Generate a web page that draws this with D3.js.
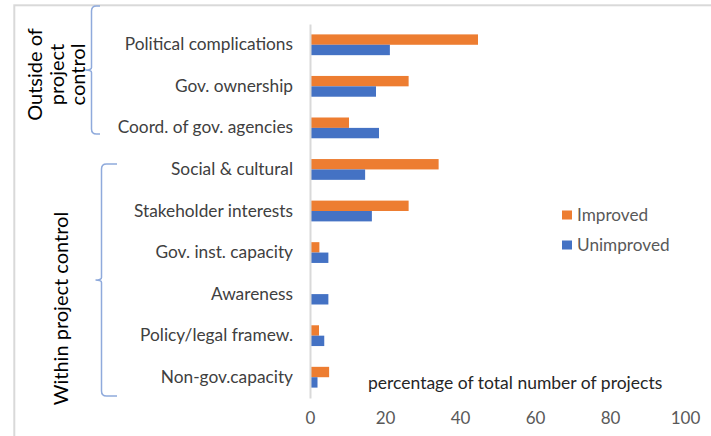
<!DOCTYPE html>
<html>
<head>
<meta charset="utf-8">
<script src="https://cdn.jsdelivr.net/npm/d3@7"></script>
<style>
  html, body { margin: 0; padding: 0; background: #fff; }
  svg { display: block; font-family: Lato, "Open Sans", sans-serif; }
</style>
</head>
<body>
<svg id="chart" width="711" height="436"></svg>
<script>
// Factors affecting project outcomes, share of projects (%)
const categories = [
  "Political complications",
  "Gov. ownership",
  "Coord. of gov. agencies",
  "Social & cultural",
  "Stakeholder interests",
  "Gov. inst. capacity",
  "Awareness",
  "Policy/legal framew.",
  "Non-gov.capacity"
];
const seriesNames = ["Improved", "Unimproved"];
const improved   = [44.8, 26.3, 10.4, 34.3, 26.3, 2.5, 0, 2.4, 5.1];
const unimproved = [21.3, 17.6, 18.4, 14.7, 16.5, 4.9, 4.9, 3.8, 2.0];
const xTicks = [0, 20, 40, 60, 80, 100];
const groups = [
  { lines: ["Outside of", "project", "control"], from: "Political complications", to: "Coord. of gov. agencies" },
  { lines: ["Within project control"], from: "Social & cultural", to: "Non-gov.capacity" }
];
const axisTitle = "percentage of total number of projects";
const colors = { Improved: "#ed7d31", Unimproved: "#4472c4" };

const svg = d3.select("#chart");

// frame
svg.append("rect")
  .attr("x", 14.3).attr("y", 5.3)
  .attr("width", 760).attr("height", 500)
  .attr("fill", "none").attr("stroke", "#d9d9d9").attr("stroke-width", 2);

const x = d3.scaleLinear().domain([0, 100]).range([310, 685]);
const y = d3.scaleBand().domain(categories).range([24, 398])
  .paddingInner(0.5).paddingOuter(0.25);
const ySub = d3.scaleBand().domain(seriesNames).range([0, y.bandwidth()]);

const rows = categories.map((c, i) => ({ cat: c, Improved: improved[i], Unimproved: unimproved[i] }));

// bars
const g = svg.append("g");
const rowG = g.selectAll("g.row").data(rows).join("g")
  .attr("class", "row")
  .attr("transform", d => `translate(0,${y(d.cat)})`);
rowG.selectAll("rect").data(d => seriesNames.map(s => ({ s, v: d[s] }))).join("rect")
  .attr("x", x(0))
  .attr("y", d => ySub(d.s))
  .attr("width", d => x(d.v) - x(0))
  .attr("height", ySub.bandwidth())
  .attr("fill", d => colors[d.s]);

// category axis
const yAxis = svg.append("g")
  .attr("transform", `translate(${x(0)},0)`)
  .call(d3.axisLeft(y).tickSize(0).tickSizeOuter(0).tickPadding(17));
yAxis.select(".domain").attr("stroke", "#d9d9d9").attr("stroke-width", 2);
yAxis.selectAll("text")
  .attr("font-family", "Lato, sans-serif")
  .attr("font-size", 17.3)
  .attr("fill", "#404040");

// value axis
const xAxis = svg.append("g")
  .attr("transform", `translate(0,${398})`)
  .call(d3.axisBottom(x).tickValues(xTicks).tickSize(0).tickPadding(14));
xAxis.select(".domain").remove();
xAxis.selectAll("text")
  .attr("font-family", "Lato, sans-serif")
  .attr("font-size", 17)
  .attr("fill", "#595959");

// axis title
svg.append("text")
  .attr("x", 368).attr("y", 389)
  .attr("font-size", 17.5)
  .attr("fill", "#262626")
  .text(axisTitle);

// legend
const legend = svg.append("g");
seriesNames.forEach((s, i) => {
  const ly = 215 + i * 30;
  legend.append("rect")
    .attr("x", 562).attr("y", ly - 4.5)
    .attr("width", 10).attr("height", 9)
    .attr("fill", colors[s]);
  legend.append("text")
    .attr("x", 577).attr("y", ly)
    .attr("dy", "0.35em")
    .attr("font-size", 17.2)
    .attr("fill", "#595959")
    .text(s);
});

// group braces and labels
const braceX = [91.5, 101.5];
const hookX = [100, 117];
const braceSpan = [[6, 134], [164, 396]];
const labelBase = [[42, 63.5, 85], [68]];
const labelMid = [74.5, 308.5];

groups.forEach((grp, i) => {
  const [y0, y1] = braceSpan[i];
  const bx = braceX[i], hx = hookX[i];
  const ym = (y0 + y1) / 2;
  const r = 5;
  const path = d3.path();
  path.moveTo(hx, y0);
  path.lineTo(bx + r, y0);
  path.quadraticCurveTo(bx, y0, bx, y0 + r);
  path.lineTo(bx, ym - 2.5);
  path.quadraticCurveTo(bx, ym, bx - 6, ym);
  path.quadraticCurveTo(bx, ym, bx, ym + 2.5);
  path.lineTo(bx, y1 - r);
  path.quadraticCurveTo(bx, y1, bx + r, y1);
  path.lineTo(hx, y1);
  svg.append("path")
    .attr("d", path.toString())
    .attr("fill", "none")
    .attr("stroke", "#8faadc")
    .attr("stroke-width", 1.5);

  grp.lines.forEach((line, j) => {
    svg.append("text")
      .attr("transform", `translate(${labelBase[i][j]},${labelMid[i]}) rotate(-90)`)
      .attr("text-anchor", "middle")
      .attr("font-size", 20)
      .attr("fill", "#000")
      .text(line);
  });
});
</script>
</body>
</html>
